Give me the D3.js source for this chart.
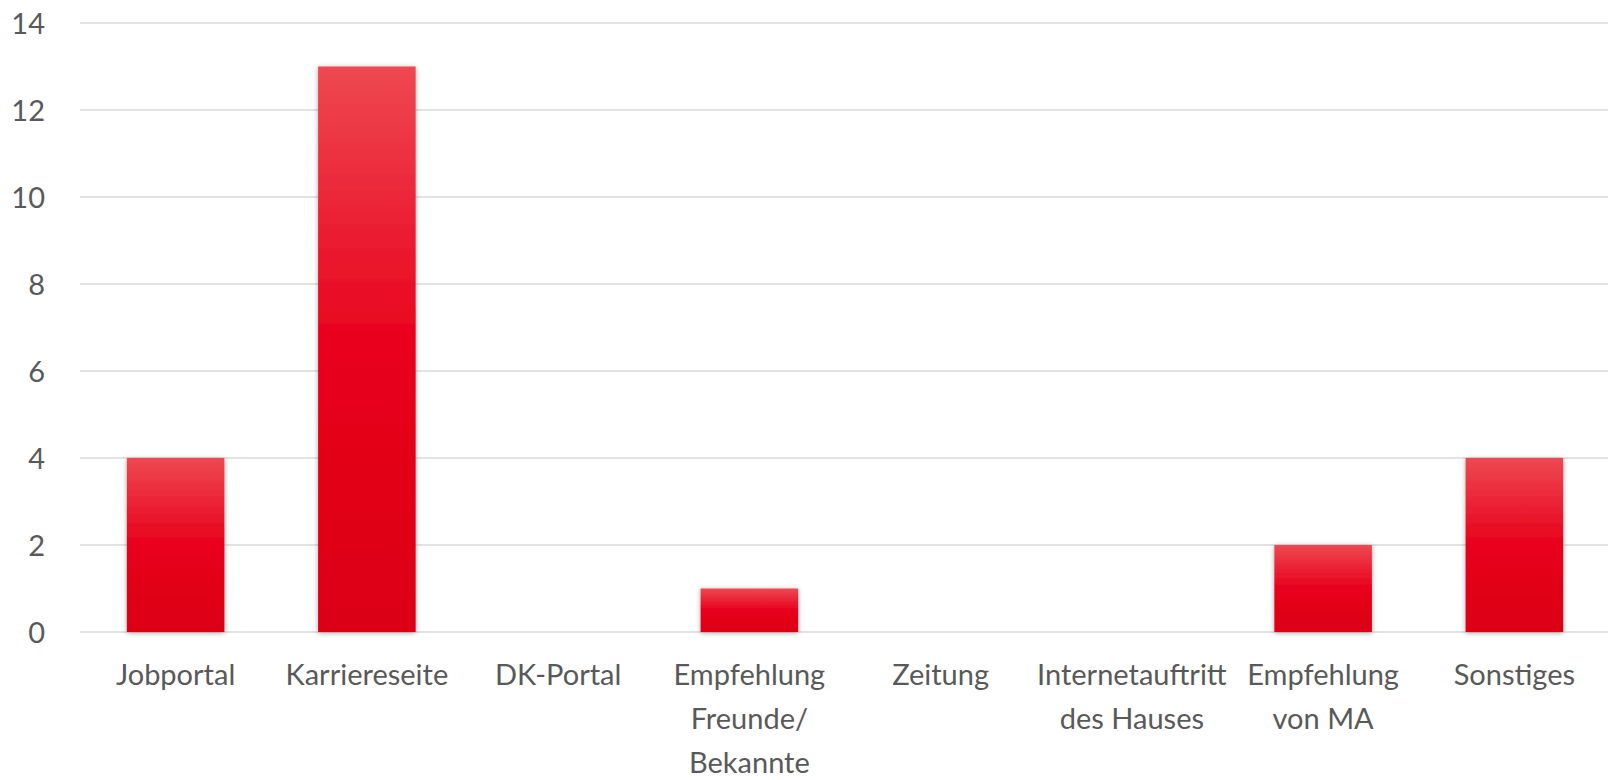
<!DOCTYPE html>
<meta charset="utf-8">
<script src="https://d3js.org/d3.v7.min.js"></script>
<style>
  body { margin: 0; background: #fff; }
  text { font-family: Lato, "Open Sans", sans-serif; fill: #595959; }
</style>
<body>
<div id="chart"></div>
<script>
// categories (line breaks as in the original axis labels) and values
var categories = ["Jobportal", "Karriereseite", "DK-Portal", "Empfehlung\nFreunde/\nBekannte",
                  "Zeitung", "Internetauftritt\ndes Hauses", "Empfehlung\nvon MA", "Sonstiges"];
var values = [4, 13, 0, 1, 0, 0, 2, 4];
var yTicks = [0, 2, 4, 6, 8, 10, 12, 14];

var W = 1608, H = 780;
var margin = {top: 23, right: -2, bottom: 148, left: 80};
var width = W - margin.left - margin.right,
    height = H - margin.top - margin.bottom;

var svg = d3.select("#chart").append("svg")
    .attr("width", W)
    .attr("height", H);

var defs = svg.append("defs");

// bar fill: light red on top, deep red below
var grad = defs.append("linearGradient")
    .attr("id", "barGrad")
    .attr("x1", 0).attr("y1", 0).attr("x2", 0).attr("y2", 1);
grad.append("stop").attr("offset", "0%").attr("stop-color", "#ee4852");
grad.append("stop").attr("offset", "50%").attr("stop-color", "#e8001c");
grad.append("stop").attr("offset", "100%").attr("stop-color", "#db0012");

var shadow = defs.append("filter")
    .attr("id", "shadow")
    .attr("x", "-20%").attr("y", "-20%")
    .attr("width", "140%").attr("height", "140%");
shadow.append("feDropShadow")
    .attr("dx", 0).attr("dy", 1)
    .attr("stdDeviation", 2.5)
    .attr("flood-color", "#000")
    .attr("flood-opacity", 0.35);

var g = svg.append("g")
    .attr("transform", "translate(" + margin.left + "," + margin.top + ")");

var x = d3.scaleBand()
    .domain(categories)
    .range([0, width])
    .paddingInner(0.49)
    .paddingOuter(0.245);

var y = d3.scaleLinear()
    .domain([0, 14])
    .range([height, 0]);

// gridlines
g.append("g")
  .selectAll("line")
  .data(yTicks)
  .enter()
  .append("line")
    .attr("x1", 0)
    .attr("x2", width)
    .attr("y1", function(d) { return y(d); })
    .attr("y2", function(d) { return y(d); })
    .style("stroke", "#d9d9d9")
    .style("stroke-width", 1.5);

// y axis labels
var yAxis = g.append("g")
    .attr("transform", "translate(-35,0)")
    .call(d3.axisLeft(y).tickValues(yTicks).tickSize(0).tickPadding(0));
yAxis.select(".domain").remove();
yAxis.selectAll("text")
    .style("font-size", "29px")
    .style("font-family", "Lato, sans-serif")
    .attr("fill", "#595959")
    .attr("dy", "0.35em");

// bars (zero values draw nothing)
var barData = categories.map(function(c, i) { return {cat: c, value: values[i]}; })
    .filter(function(d) { return d.value > 0; });

g.append("g")
  .selectAll("rect")
  .data(barData)
  .enter()
  .append("rect")
    .attr("x", function(d) { return x(d.cat); })
    .attr("y", function(d) { return y(d.value); })
    .attr("width", x.bandwidth())
    .attr("height", function(d) { return height - y(d.value); })
    .style("fill", "url(#barGrad)")
    .style("filter", "url(#shadow)");

// x axis labels
var xl = g.append("g")
  .selectAll("text")
  .data(categories)
  .enter()
  .append("text")
    .attr("x", function(d) { return x(d) + x.bandwidth() / 2; })
    .attr("y", height + 53)
    .attr("text-anchor", "middle")
    .style("font-size", "29px");

xl.each(function(d) {
  var t = d3.select(this);
  d.split("\n").forEach(function(line, i) {
    t.append("tspan")
      .attr("x", t.attr("x"))
      .attr("dy", i === 0 ? 0 : 44)
      .text(line);
  });
});
</script>
</body>
</html>
